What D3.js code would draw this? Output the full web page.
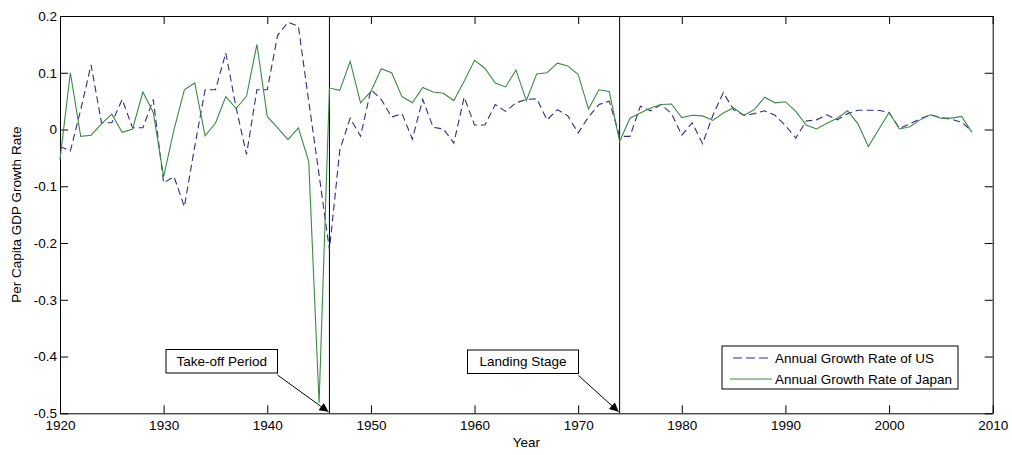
<!DOCTYPE html>
<html>
<head>
<meta charset="utf-8">
<script src="https://cdn.jsdelivr.net/npm/d3@7"></script>
<style>
  html, body { margin: 0; padding: 0; background: #ffffff; }
  svg { display: block; font-family: "Liberation Sans", Arial, sans-serif; }
</style>
</head>
<body>
<svg id="chart" width="1012" height="455"></svg>
<script>
// Annual per-capita GDP growth, 1920-2008
const firstYear = 1920;
const lastYear = 2008;

const usGrowth = [
  -0.030, -0.038, 0.035, 0.114, 0.012, 0.012, 0.053, 0.003, 0.003, 0.053,
  -0.094, -0.083, -0.136, -0.030, 0.070, 0.070, 0.135, 0.038, -0.044, 0.070,
  0.070, 0.166, 0.189, 0.182, 0.050, -0.080, -0.212, -0.036, 0.020, -0.012,
  0.070, 0.053, 0.022, 0.028, -0.017, 0.053, 0.004, 0.001, -0.024, 0.057,
  0.008, 0.008, 0.044, 0.032, 0.047, 0.053, 0.054, 0.017, 0.035, 0.024,
  -0.006, 0.022, 0.044, 0.050, -0.012, -0.012, 0.041, 0.033, 0.044, 0.028,
  -0.010, 0.012, -0.025, 0.025, 0.065, 0.035, 0.025, 0.028, 0.033, 0.025,
  0.007, -0.015, 0.015, 0.017, 0.026, 0.017, 0.028, 0.034, 0.034, 0.034,
  0.030, 0.002, 0.010, 0.019, 0.026, 0.021, 0.018, 0.013, -0.003
];

const japanGrowth = [
  -0.053, 0.100, -0.012, -0.010, 0.010, 0.027, -0.005, 0.001, 0.066, 0.030,
  -0.083, 0.000, 0.070, 0.082, -0.011, 0.011, 0.058, 0.037, 0.059, 0.150,
  0.023, 0.003, -0.018, 0.003, -0.056, -0.482, 0.073, 0.069, 0.120, 0.047,
  0.067, 0.107, 0.100, 0.058, 0.047, 0.074, 0.066, 0.064, 0.051, 0.085,
  0.122, 0.108, 0.082, 0.075, 0.105, 0.051, 0.098, 0.100, 0.117, 0.112,
  0.097, 0.036, 0.070, 0.067, -0.021, 0.020, 0.029, 0.038, 0.044, 0.045,
  0.021, 0.025, 0.024, 0.016, 0.029, 0.038, 0.025, 0.035, 0.057, 0.047,
  0.049, 0.032, 0.008, 0.001, 0.011, 0.020, 0.033, 0.010, -0.030, 0.000,
  0.030, 0.001, 0.005, 0.017, 0.026, 0.020, 0.020, 0.023, -0.005
];

const xTickValues = [1920, 1930, 1940, 1950, 1960, 1970, 1980, 1990, 2000, 2010];
const xTickLabels = ["1920", "1930", "1940", "1950", "1960", "1970", "1980", "1990", "2000", "2010"];
const yTickValues = [0.2, 0.1, 0, -0.1, -0.2, -0.3, -0.4, -0.5];
const yTickLabels = ["0.2", "0.1", "0", "-0.1", "-0.2", "-0.3", "-0.4", "-0.5"];

// Stage boundaries and their callouts
const stageYears = [1946, 1974];
const stageLabels = ["Take-off Period", "Landing Stage"];

const seriesNames = ["Annual Growth Rate of US", "Annual Growth Rate of Japan"];
const seriesColors = ["#2e2e84", "#3a8a45"];

const years = d3.range(firstYear, lastYear + 1);

const svg = d3.select("#chart");
const plotLeft = 60, plotRight = 992.7, plotTop = 16, plotBottom = 413.3;

const x = d3.scaleLinear().domain([1920, 2010]).range([plotLeft, plotRight]);
const y = d3.scaleLinear().domain([-0.5, 0.2]).range([plotBottom, plotTop]);

const fontSize = "13.5px";

// Axes with inward ticks on all four sides
function styleAxis(g) {
  g.select(".domain").attr("stroke", "#000").attr("stroke-width", 1);
  g.selectAll(".tick line").attr("stroke", "#000").attr("stroke-width", 1);
  g.selectAll(".tick text").attr("fill", "#000").style("font-size", fontSize)
    .style("font-family", "'Liberation Sans', Arial, sans-serif");
}

svg.append("g")
  .attr("transform", `translate(0,${plotBottom})`)
  .call(d3.axisBottom(x).tickValues(xTickValues)
    .tickFormat((d, i) => xTickLabels[i]).tickSize(-8).tickSizeOuter(0).tickPadding(7))
  .call(styleAxis);

svg.append("g")
  .attr("transform", `translate(0,${plotTop})`)
  .call(d3.axisTop(x).tickValues(xTickValues).tickFormat("").tickSize(-8).tickSizeOuter(0))
  .call(styleAxis);

svg.append("g")
  .attr("transform", `translate(${plotLeft},0)`)
  .call(d3.axisLeft(y).tickValues(yTickValues)
    .tickFormat((d, i) => yTickLabels[i]).tickSize(-8).tickSizeOuter(0).tickPadding(3))
  .call(styleAxis);

svg.append("g")
  .attr("transform", `translate(${plotRight},0)`)
  .call(d3.axisRight(y).tickValues(yTickValues).tickFormat("").tickSize(-8).tickSizeOuter(0))
  .call(styleAxis);

// Stage boundary lines
svg.selectAll(".stage-line")
  .data(stageYears)
  .join("line")
  .attr("class", "stage-line")
  .attr("x1", d => x(d)).attr("x2", d => x(d))
  .attr("y1", y(0.2)).attr("y2", y(-0.5))
  .attr("stroke", "#000").attr("stroke-width", 1);

// Series lines
const line = d3.line().x((d, i) => x(years[i])).y(d => y(d));

svg.append("path")
  .datum(usGrowth)
  .attr("d", line)
  .attr("fill", "none")
  .attr("stroke", seriesColors[0])
  .attr("stroke-width", 1.1)
  .attr("stroke-dasharray", "7,4");

svg.append("path")
  .datum(japanGrowth)
  .attr("d", line)
  .attr("fill", "none")
  .attr("stroke", seriesColors[1])
  .attr("stroke-width", 1.1);

// Callouts pointing at the bottom of each stage boundary
const defs = svg.append("defs");
defs.append("marker")
  .attr("id", "arrowhead")
  .attr("viewBox", "0 0 10 10")
  .attr("refX", 10).attr("refY", 5)
  .attr("markerWidth", 15).attr("markerHeight", 9)
  .attr("markerUnits", "userSpaceOnUse")
  .attr("orient", "auto")
  .append("path")
  .attr("d", "M0,0 L10,5 L0,10 Z")
  .attr("fill", "#000");

const calloutBoxes = [
  { x0: 166, x1: 277.5, yTop: 349.5, yBot: 373 },
  { x0: 467.5, x1: 578.5, yTop: 350, yBot: 373.5 }
];

calloutBoxes.forEach((b, i) => {
  svg.append("line")
    .attr("x1", b.x1).attr("y1", b.yBot + 2)
    .attr("x2", x(stageYears[i]) - 1).attr("y2", y(-0.5) - 1.5)
    .attr("stroke", "#000").attr("stroke-width", 1)
    .attr("marker-end", "url(#arrowhead)");
  svg.append("rect")
    .attr("x", b.x0).attr("y", b.yTop)
    .attr("width", b.x1 - b.x0).attr("height", b.yBot - b.yTop)
    .attr("fill", "#fff").attr("stroke", "#000").attr("stroke-width", 1);
  svg.append("text")
    .attr("x", (b.x0 + b.x1) / 2).attr("y", (b.yTop + b.yBot) / 2)
    .attr("text-anchor", "middle").attr("dominant-baseline", "central")
    .style("font-size", fontSize)
    .text(stageLabels[i]);
});

// Legend
const legend = svg.append("g");
legend.append("rect")
  .attr("x", 722).attr("y", 346)
  .attr("width", 236).attr("height", 43)
  .attr("fill", "#fff").attr("stroke", "#000").attr("stroke-width", 1);

const legendRows = [358, 379];
seriesNames.forEach((name, i) => {
  legend.append("line")
    .attr("x1", i === 0 ? 733 : 730).attr("x2", 772)
    .attr("y1", legendRows[i]).attr("y2", legendRows[i])
    .attr("stroke", seriesColors[i]).attr("stroke-width", 1.1)
    .attr("stroke-dasharray", i === 0 ? "9,4" : null);
  legend.append("text")
    .attr("x", 775).attr("y", legendRows[i])
    .attr("dominant-baseline", "central")
    .style("font-size", fontSize)
    .text(name);
});

// Axis titles
svg.append("text")
  .attr("x", (plotLeft + plotRight) / 2).attr("y", 447)
  .attr("text-anchor", "middle")
  .style("font-size", fontSize)
  .text("Year");

svg.append("text")
  .attr("transform", `translate(21,${(plotTop + plotBottom) / 2}) rotate(-90)`)
  .attr("text-anchor", "middle")
  .style("font-size", fontSize)
  .text("Per Capita GDP Growth Rate");
</script>
</body>
</html>
